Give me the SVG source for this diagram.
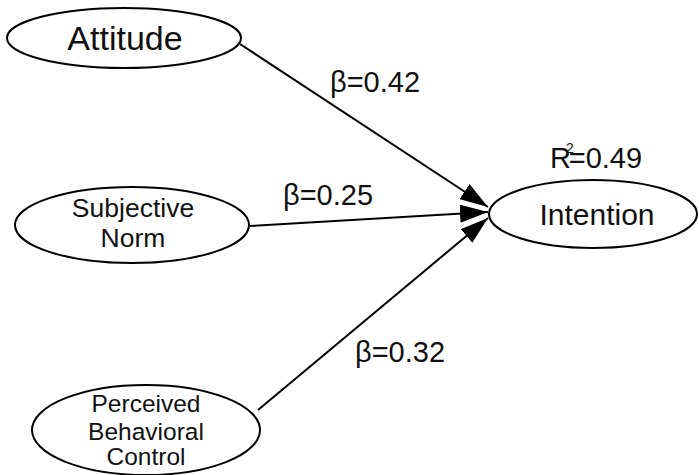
<svg xmlns="http://www.w3.org/2000/svg" width="699" height="475" viewBox="0 0 699 475">
  <style>
    .node { fill: #fff; stroke: #000; stroke-width: 2; }
    .lbl { font-family: "Liberation Sans", Arial, sans-serif; fill: #111; text-anchor: middle; }
    .edge { stroke: #000; stroke-width: 2; fill: none; marker-end: url(#arrow); }
    .coef { font-family: "Liberation Sans", Arial, sans-serif; fill: #111; font-size: 29px; }
  </style>
  <defs>
    <marker id="arrow" viewBox="0 0 14 9" refX="14" refY="4.5" markerWidth="14" markerHeight="9" markerUnits="strokeWidth" orient="auto">
      <path d="M0,0 L14,4.5 L0,9 Z" fill="#000"/>
    </marker>
  </defs>
  <rect width="699" height="475" fill="#fff"/>

  <g id="connectors">
    <line class="edge" x1="240" y1="44" x2="488" y2="207"/>
    <line class="edge" x1="250" y1="226" x2="488" y2="212"/>
    <line class="edge" x1="258" y1="410" x2="488" y2="218"/>
    <text class="coef" x="330" y="92">β=0.42</text>
    <text class="coef" x="283" y="205">β=0.25</text>
    <text class="coef" x="355" y="362">β=0.32</text>
  </g>

  <g id="attitude">
    <ellipse class="node" cx="124" cy="38" rx="117" ry="30"/>
    <text class="lbl" x="125" y="50" font-size="34">Attitude</text>
  </g>

  <g id="subjective-norm">
    <ellipse class="node" cx="132" cy="225" rx="117" ry="38"/>
    <text class="lbl" x="133" y="217" font-size="26.5">Subjective</text>
    <text class="lbl" x="133" y="247" font-size="26.5">Norm</text>
  </g>

  <g id="perceived-behavioral-control">
    <ellipse class="node" cx="146" cy="430" rx="114" ry="45"/>
    <text class="lbl" x="146" y="412" font-size="24.5">Perceived</text>
    <text class="lbl" x="146" y="440" font-size="24.5">Behavioral</text>
    <text class="lbl" x="146" y="465" font-size="24.5">Control</text>
  </g>

  <g id="intention">
    <ellipse class="node" cx="593" cy="214" rx="104" ry="34"/>
    <text class="lbl" x="597" y="225" font-size="30">Intention</text>
    <text class="coef" x="550" y="168">R<tspan dx="-5" dy="-15" font-size="14">2</tspan><tspan dx="-5" dy="15">=0.49</tspan></text>
  </g>
</svg>
